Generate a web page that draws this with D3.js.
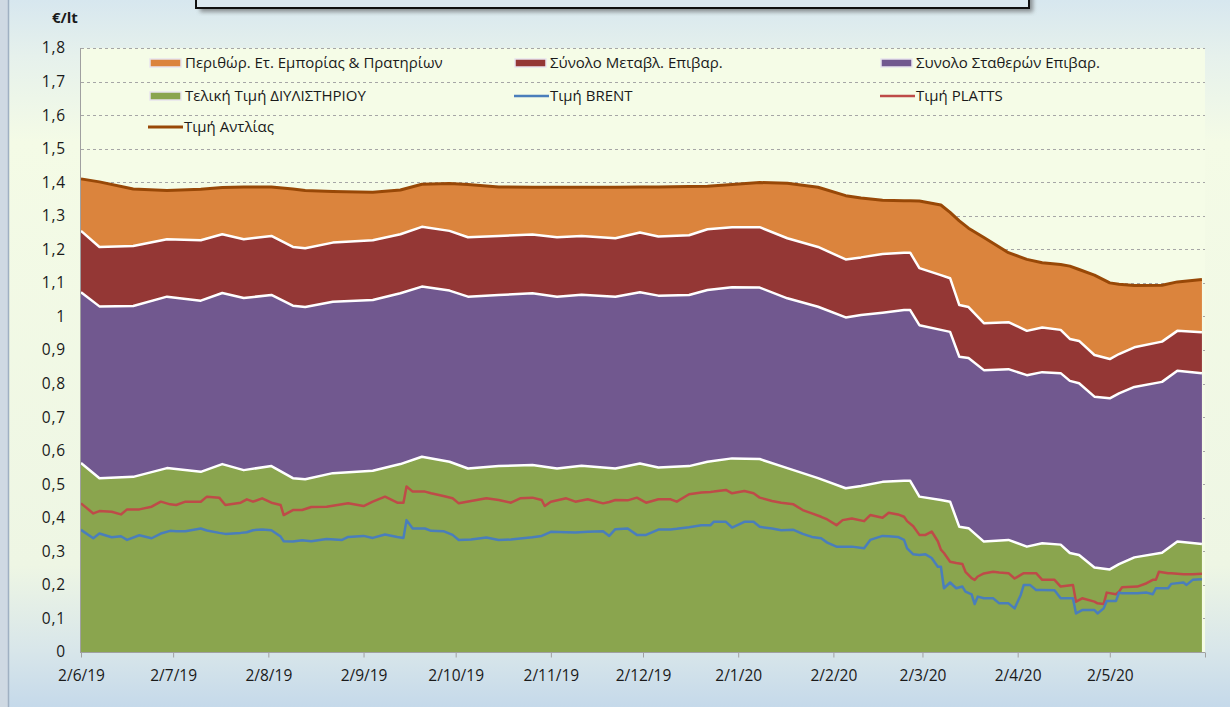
<!DOCTYPE html>
<html>
<head>
<meta charset="utf-8">
<script src="https://cdn.jsdelivr.net/npm/d3@7"></script>
<style>
  body { margin: 0; overflow: hidden; }
  text { font-family: "Open Sans", "Noto Sans", sans-serif; fill: #1a1a1a; }
</style>
</head>
<body>
<div id="chart"></div>
<script>
// stacked components, €/lt
var stackDates = ["2019-06-02","2019-06-08","2019-06-19","2019-06-30","2019-07-11","2019-07-18","2019-07-25",
  "2019-08-03","2019-08-10","2019-08-14","2019-08-23","2019-09-05","2019-09-14","2019-09-21","2019-09-30",
  "2019-10-06","2019-10-16","2019-10-27","2019-11-04","2019-11-12","2019-11-23","2019-12-01","2019-12-07",
  "2019-12-17","2019-12-23","2019-12-31","2020-01-09","2020-01-18","2020-01-28","2020-02-06","2020-02-11",
  "2020-02-18","2020-02-25","2020-02-27","2020-03-01","2020-03-08","2020-03-11","2020-03-14","2020-03-17",
  "2020-03-22","2020-03-30","2020-04-05","2020-04-10","2020-04-16","2020-04-19","2020-04-22","2020-04-27",
  "2020-05-02","2020-05-05","2020-05-10","2020-05-19","2020-05-24","2020-06-01"];
var refinery = [.563,.518,.522,.548,.537,.560,.542,.554,.518,.515,.533,.540,.560,.582,.567,.547,.554,.557,.547,.555,
  .547,.562,.550,.554,.567,.577,.575,.548,.518,.488,.495,.507,.510,.510,.463,.453,.448,.373,.369,.329,.334,.314,
  .324,.320,.295,.289,.252,.246,.262,.282,.296,.329,.322];
var fixedTax = [.509,.512,.509,.511,.510,.510,.513,.510,.514,.513,.511,.509,.509,.507,.510,.512,.510,.512,.512,.510,
  .512,.510,.512,.510,.512,.510,.511,.506,.511,.509,.509,.504,.509,.509,.511,.507,.506,.507,.507,.511,.509,.511,
  .510,.511,.513,.512,.509,.510,.509,.508,.509,.509,.509];
var varTax = [.183,.177,.179,.171,.180,.175,.175,.176,.175,.175,.176,.178,.176,.178,.178,.177,.176,.175,.177,.175,
  .174,.178,.176,.178,.181,.179,.180,.179,.178,.173,.172,.175,.171,.171,.170,.163,.160,.154,.152,.140,.140,.132,
  .133,.129,.125,.126,.124,.117,.117,.118,.120,.119,.122];
var retailMargin = [.155,.194,.170,.145,.152,.139,.156,.146,.173,.172,.152,.143,.132,.127,.141,.157,.146,.141,.149,.145,
  .152,.136,.148,.145,.128,.127,.133,.164,.178,.190,.177,.160,.155,.155,.200,.209,.196,.251,.235,.255,.207,.213,
  .193,.195,.217,.213,.238,.227,.208,.184,.168,.146,.157];

// price lines
var lineDates = ["2019-06-02","2019-06-06","2019-06-08","2019-06-12","2019-06-15","2019-06-17","2019-06-21","2019-06-25",
  "2019-06-28","2019-07-01","2019-07-03","2019-07-06","2019-07-11","2019-07-13","2019-07-17","2019-07-19","2019-07-24",
  "2019-07-26","2019-07-28","2019-07-31","2019-08-03","2019-08-06","2019-08-07","2019-08-10","2019-08-13","2019-08-16",
  "2019-08-21","2019-08-26","2019-08-28","2019-09-02","2019-09-05","2019-09-09","2019-09-13","2019-09-15","2019-09-16",
  "2019-09-18","2019-09-22","2019-09-24","2019-09-28","2019-10-01","2019-10-03","2019-10-07","2019-10-12","2019-10-16",
  "2019-10-20","2019-10-23","2019-10-27","2019-10-30","2019-10-31","2019-11-02","2019-11-07","2019-11-10","2019-11-14",
  "2019-11-19","2019-11-21","2019-11-23","2019-11-27","2019-11-30","2019-12-03","2019-12-07","2019-12-11","2019-12-13",
  "2019-12-17","2019-12-21","2019-12-24","2019-12-25","2019-12-29","2019-12-31","2020-01-04","2020-01-07","2020-01-09",
  "2020-01-13","2020-01-16","2020-01-20","2020-01-23","2020-01-26","2020-01-29","2020-01-31","2020-02-03","2020-02-05",
  "2020-02-08","2020-02-12","2020-02-14","2020-02-18","2020-02-20","2020-02-23","2020-02-25","2020-02-26","2020-02-28",
  "2020-03-01","2020-03-03","2020-03-05","2020-03-07","2020-03-08","2020-03-09","2020-03-11","2020-03-13","2020-03-15",
  "2020-03-16","2020-03-18","2020-03-19","2020-03-20","2020-03-22","2020-03-25","2020-03-27","2020-03-30","2020-04-01",
  "2020-04-03","2020-04-04","2020-04-06","2020-04-08","2020-04-10","2020-04-14","2020-04-16","2020-04-20","2020-04-21",
  "2020-04-23","2020-04-27","2020-04-28","2020-04-30","2020-05-01","2020-05-04","2020-05-05","2020-05-06","2020-05-11",
  "2020-05-14","2020-05-16","2020-05-17","2020-05-18","2020-05-21","2020-05-22","2020-05-26","2020-05-27","2020-05-29",
  "2020-06-01"];
var brent = [.364,.339,.353,.342,.345,.334,.348,.339,.353,.361,.360,.360,.368,.362,.355,.352,.355,.357,.363,.365,
  .363,.344,.330,.329,.333,.330,.337,.334,.343,.346,.340,.350,.343,.340,.393,.368,.368,.361,.360,.349,.334,.335,
  .341,.334,.335,.338,.342,.346,.350,.358,.357,.356,.358,.360,.346,.366,.368,.349,.349,.365,.365,.367,.372,.378,
  .378,.388,.388,.371,.388,.388,.373,.368,.363,.364,.352,.343,.339,.326,.314,.314,.314,.309,.334,.346,.345,.343,
  .334,.309,.291,.289,.291,.280,.254,.254,.190,.207,.190,.195,.180,.172,.143,.165,.160,.160,.145,.145,.130,.170,
  .200,.200,.185,.185,.184,.160,.160,.115,.125,.125,.115,.130,.152,.152,.177,.175,.175,.177,.172,.190,.190,.190,
  .203,.207,.200,.215,.217];
var platts = [.443,.413,.420,.418,.410,.425,.425,.433,.448,.440,.438,.448,.448,.463,.460,.438,.445,.455,.448,.458,
  .445,.438,.408,.423,.423,.432,.433,.440,.443,.435,.448,.463,.445,.445,.493,.478,.478,.473,.465,.458,.443,.450,
  .458,.453,.445,.458,.460,.453,.435,.448,.458,.448,.455,.443,.447,.453,.452,.460,.445,.455,.455,.448,.470,.475,
  .477,.478,.483,.473,.480,.473,.460,.450,.445,.440,.423,.413,.403,.395,.378,.393,.398,.390,.408,.400,.415,.410,
  .403,.390,.375,.349,.349,.359,.330,.305,.295,.269,.265,.262,.239,.220,.215,.225,.234,.239,.237,.235,.219,.230,
  .235,.235,.235,.215,.215,.195,.200,.150,.160,.150,.145,.143,.177,.172,.180,.193,.195,.205,.215,.215,.239,.235,
  .235,.232,.232,.232,.233];

var tickLabels = ["2/6/19","2/7/19","2/8/19","2/9/19","2/10/19","2/11/19","2/12/19","2/1/20","2/2/20","2/3/20","2/4/20","2/5/20"];
var seriesNames = ["Περιθώρ. Ετ. Εμπορίας & Πρατηρίων", "Σύνολο Μεταβλ. Επιβαρ.", "Συνολο Σταθερών Επιβαρ.",
  "Τελική Τιμή ΔΙΥΛΙΣΤΗΡΙΟΥ", "Τιμή BRENT", "Τιμή PLATTS", "Τιμή Αντλίας"];

var svgWidth = 1230, svgHeight = 707;
var plot = {left: 81, right: 1205, top: 48, bottom: 652};

var parseIso = d3.timeParse("%Y-%m-%d");
var parseTick = d3.timeParse("%d/%m/%y");
var grFormat = d3.formatLocale({decimal: ",", thousands: ".", grouping: [3], currency: ["", "€"]}).format(".1~f");

var svg = d3.select("#chart").append("svg")
  .attr("width", svgWidth)
  .attr("height", svgHeight);

// background
var defs = svg.append("defs");
var bg = defs.append("linearGradient").attr("id", "bg").attr("x1", 0).attr("y1", 0).attr("x2", 0).attr("y2", 1);
[["0", "#d7e7ef"], ["0.08", "#e6f1ec"], ["0.2", "#f4fbe6"], ["0.8", "#eef6e4"], ["0.92", "#d8e6ea"], ["1", "#c5d9ea"]]
  .forEach(function(s) { bg.append("stop").attr("offset", s[0]).attr("stop-color", s[1]); });
defs.append("filter").attr("id", "blur").append("feGaussianBlur").attr("stdDeviation", 2);

svg.append("rect").attr("width", svgWidth).attr("height", svgHeight).attr("fill", "url(#bg)");
svg.append("rect").attr("x", 0).attr("y", 0).attr("width", 8).attr("height", svgHeight).attr("fill", "#cfd9e3");
svg.append("line").attr("x1", 8.5).attr("x2", 8.5).attr("y1", 0).attr("y2", svgHeight)
  .attr("stroke", "#9fb0c2").attr("stroke-width", 1.5);

// title box (cut off at top)
svg.append("rect").attr("x", 200).attr("y", -20).attr("width", 833).attr("height", 32)
  .attr("fill", "#555").attr("opacity", 0.6).attr("filter", "url(#blur)");
svg.append("rect").attr("x", 196).attr("y", -24).attr("width", 833).attr("height", 32)
  .attr("fill", "#dce9f0").attr("stroke", "#111").attr("stroke-width", 2);

// plot background
svg.append("rect").attr("x", plot.left).attr("y", plot.top)
  .attr("width", plot.right - plot.left).attr("height", plot.bottom - plot.top)
  .attr("fill", "#f5fce7");

var x = d3.scaleTime()
  .domain([parseIso("2019-06-02"), parseIso("2020-06-02")])
  .range([plot.left, plot.right]);
var y = d3.scaleLinear().domain([0, 1.8]).range([plot.bottom, plot.top]);
var yTicks = d3.range(0, 19).map(function(i) { return i / 10; });

// gridlines
svg.append("g").selectAll("line").data(yTicks.slice(1)).enter().append("line")
  .attr("x1", plot.left).attr("x2", plot.right)
  .attr("y1", function(d) { return Math.round(y(d)) + 0.5; })
  .attr("y2", function(d) { return Math.round(y(d)) + 0.5; })
  .attr("stroke", "#a6a6a6").attr("stroke-dasharray", "3,3");

// stacked areas
var rows = stackDates.map(function(d, i) {
  return {date: parseIso(d), refinery: refinery[i], fixed: fixedTax[i], variable: varTax[i], margin: retailMargin[i]};
});
var keys = ["refinery", "fixed", "variable", "margin"];
var colors = {refinery: "#8aa54e", fixed: "#71588f", variable: "#943735", margin: "#db843d"};
var layers = d3.stack().keys(keys)(rows);

var area = d3.area()
  .x(function(d) { return x(d.data.date); })
  .y0(function(d) { return y(d[0]); })
  .y1(function(d) { return y(d[1]); });
var topLine = d3.line()
  .x(function(d) { return x(d.data.date); })
  .y(function(d) { return y(d[1]); });

svg.append("g").selectAll("path").data(layers).enter().append("path")
  .attr("d", area)
  .attr("fill", function(d) { return colors[d.key]; });

svg.append("g").selectAll("path").data(layers.slice(0, 3)).enter().append("path")
  .attr("d", topLine)
  .attr("fill", "none").attr("stroke", "#ffffff").attr("stroke-width", 2.5)
  .attr("stroke-linejoin", "round");

// brent / platts
var lineRows = lineDates.map(function(d, i) { return {date: parseIso(d), brent: brent[i], platts: platts[i]}; });
var brentLine = d3.line().x(function(d) { return x(d.date); }).y(function(d) { return y(d.brent); });
var plattsLine = d3.line().x(function(d) { return x(d.date); }).y(function(d) { return y(d.platts); });

svg.append("path").datum(lineRows).attr("d", plattsLine)
  .attr("fill", "none").attr("stroke", "#be4b48").attr("stroke-width", 2.5).attr("stroke-linejoin", "round");
svg.append("path").datum(lineRows).attr("d", brentLine)
  .attr("fill", "none").attr("stroke", "#4a7ebb").attr("stroke-width", 2.5).attr("stroke-linejoin", "round");

// pump price line = top of stack
svg.append("path").datum(layers[3]).attr("d", topLine)
  .attr("fill", "none").attr("stroke", "#984807").attr("stroke-width", 3).attr("stroke-linejoin", "round");

// axes
svg.append("line").attr("x1", plot.left - 0.5).attr("x2", plot.left - 0.5)
  .attr("y1", plot.top).attr("y2", plot.bottom).attr("stroke", "#a0a0a0");

var xTickDates = tickLabels.map(parseTick).concat([x.domain()[1]]);
var xAxis = d3.axisBottom(x).tickValues(xTickDates).tickSize(5).tickSizeOuter(0)
  .tickFormat(function(d, i) { return tickLabels[i] || ""; });
var gx = svg.append("g").attr("transform", "translate(0," + (plot.bottom + 0.5) + ")").call(xAxis);
gx.select(".domain").attr("stroke", "#a0a0a0").attr("d", "M" + (plot.left - 1) + ",0H" + plot.right);
gx.selectAll(".tick line").attr("stroke", "#a0a0a0");
gx.selectAll(".tick text").attr("dy", "1.3em")
  .style("font-family", "'Open Sans', sans-serif").style("font-size", "15.5px").attr("fill", "#1a1a1a");

svg.append("g").selectAll("text").data(yTicks).enter().append("text")
  .attr("x", 66).attr("y", function(d) { return y(d); })
  .attr("dy", "0.35em").attr("text-anchor", "end")
  .style("font-size", "15.5px").style("letter-spacing", "0.8px")
  .text(function(d) { return grFormat(d); });

svg.append("text").attr("x", 52).attr("y", 23)
  .style("font-size", "15px").style("font-weight", "bold").text("€/lt");

// legend
var legendItems = [
  {name: seriesNames[0], type: "box", color: colors.margin, x: 150, y: 63},
  {name: seriesNames[1], type: "box", color: colors.variable, x: 515, y: 63},
  {name: seriesNames[2], type: "box", color: colors.fixed, x: 881, y: 63},
  {name: seriesNames[3], type: "box", color: colors.refinery, x: 150, y: 96},
  {name: seriesNames[4], type: "line", color: "#4a7ebb", x: 514, y: 96},
  {name: seriesNames[5], type: "line", color: "#be4b48", x: 880, y: 96},
  {name: seriesNames[6], type: "line", color: "#984807", x: 148, y: 127}
];
var legend = svg.append("g");
legendItems.forEach(function(item) {
  if (item.type === "box") {
    legend.append("rect").attr("x", item.x).attr("y", item.y - 4).attr("width", 31).attr("height", 8)
      .attr("fill", item.color).attr("stroke", "#e8e4ee").attr("stroke-width", 1.5);
    legend.append("text").attr("x", item.x + 35).attr("y", item.y).attr("dy", "0.35em")
      .style("font-size", "15px").text(item.name);
  } else {
    legend.append("line").attr("x1", item.x).attr("x2", item.x + 35).attr("y1", item.y).attr("y2", item.y)
      .attr("stroke", item.color).attr("stroke-width", item.name === seriesNames[6] ? 3 : 2.5);
    legend.append("text").attr("x", item.x + 36).attr("y", item.y).attr("dy", "0.35em")
      .style("font-size", "15px").text(item.name);
  }
});
</script>
</body>
</html>
